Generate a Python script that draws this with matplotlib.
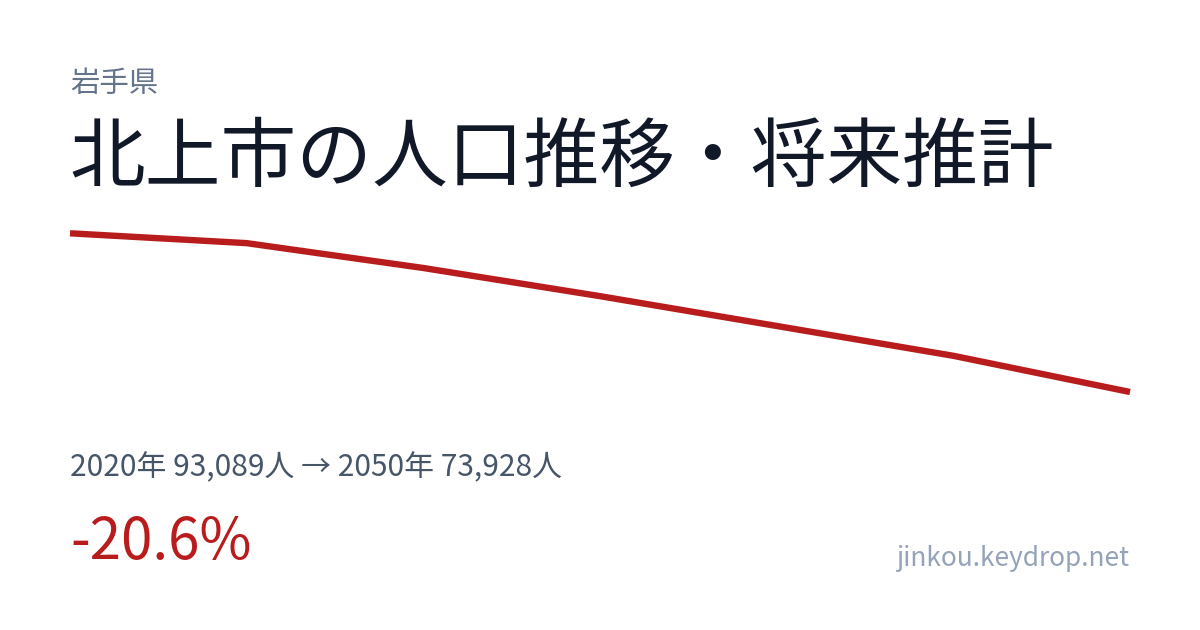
import matplotlib
matplotlib.use('Agg')
import matplotlib.pyplot as plt

plt.rcParams['font.family'] = ['Noto Sans CJK JP', 'DejaVu Sans']

years = [2020, 2025, 2030, 2035, 2040, 2045, 2050]
population = [93089, 91900, 88900, 85500, 81900, 78300, 73928]

prefecture = '岩手県'
title = '北上市の人口推移・将来推計'
summary = '2020年 93,089人 → 2050年 73,928人'
change = '-20.6%'
site = 'jinkou.keydrop.net'

W, H = 1200, 630
fig = plt.figure(figsize=(W / 100, H / 100), dpi=100)
fig.patch.set_facecolor('white')


def fx(px):
    return px / W


def fy(py):
    return 1 - py / H


# line area: x 70..1130, y 233..392 px
ax = fig.add_axes([fx(70), fy(392), fx(1130) - fx(70), fy(233.3) - fy(392)])
ax.plot(years, population, color='#b91c1c', lw=4.6, solid_capstyle='butt',
        solid_joinstyle='round', clip_on=False)
ax.set_xlim(min(years), max(years))
ax.set_ylim(min(population), max(population))
ax.axis('off')

fig.text(fx(70), fy(92), prefecture, fontsize=21.2, color='#64748b', va='baseline')
fig.text(fx(69), fy(181), title, fontsize=54.5, color='#111827', va='baseline')
fig.text(fx(70), fy(476), summary, fontsize=21.5, color='#475569', va='baseline')
fig.text(fx(70), fy(559), change, fontsize=40.7, color='#b91c1c', va='baseline')
fig.text(fx(1129), fy(566), site, fontsize=18.9, color='#94a3b8', va='baseline', ha='right')

fig.savefig('out.png', dpi=100, facecolor='white')
